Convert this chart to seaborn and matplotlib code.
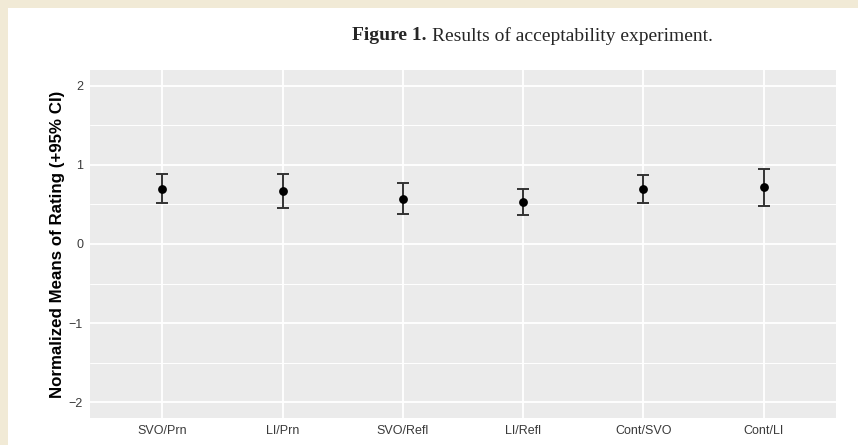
import numpy as np
import pandas as pd
import seaborn as sns
import matplotlib.pyplot as plt
from matplotlib.patches import Rectangle

# data
conditions = ["SVO/Prn", "LI/Prn", "SVO/Refl", "LI/Refl", "Cont/SVO", "Cont/LI"]
means = [0.70, 0.67, 0.565, 0.53, 0.70, 0.715]
ci_low = [0.515, 0.46, 0.375, 0.37, 0.52, 0.475]
ci_high = [0.88, 0.89, 0.765, 0.695, 0.87, 0.95]

df = pd.DataFrame({"Condition": conditions, "Mean": means, "Low": ci_low, "High": ci_high})

sns.set_style("darkgrid", {"axes.facecolor": "#EBEBEB", "grid.color": "white"})
plt.rcParams["font.family"] = ["Liberation Sans", "DejaVu Sans"]

fig = plt.figure(figsize=(8.58, 4.45), dpi=100)
fig.patch.set_facecolor("#f1ead6")
# white page area with beige margin on left and top
fig.patches.append(Rectangle((8 / 858, 0), 1, 1 - 8 / 445, transform=fig.transFigure,
                             facecolor="white", edgecolor="none", zorder=-10))

ax = fig.add_axes([90 / 858, 1 - 418 / 445, 746 / 858, 348 / 445])

sns.scatterplot(data=df, x="Condition", y="Mean", color="black", s=40, zorder=4, ax=ax,
                edgecolor="black", linewidth=0)
ax.errorbar(df["Condition"], df["Mean"],
            yerr=[df["Mean"] - df["Low"], df["High"] - df["Mean"]],
            fmt="none", ecolor="#333333", elinewidth=1.4, capsize=4.6, capthick=1.4, zorder=3)

ax.set_xlim(-0.6, len(conditions) - 0.4)
ax.set_ylim(-2.2, 2.2)
ax.set_yticks([-2, -1, 0, 1, 2])
ax.set_yticklabels(["\u22122", "\u22121", "0", "1", "2"])
ax.set_yticks([-1.5, -0.5, 0.5, 1.5], minor=True)
ax.grid(which="major", color="white", linewidth=1.3)
ax.grid(which="minor", axis="y", color="white", linewidth=0.7)
for s in ax.spines.values():
    s.set_visible(False)
ax.tick_params(which="major", length=3, width=0.8, color="#333333", labelcolor="#3a3a3a",
               labelsize=9, pad=2)
ax.tick_params(which="minor", length=0)
ax.set_xlabel("")
ax.set_ylabel("Normalized Means of Rating (+95% CI)", fontsize=12.2, fontweight="bold",
              color="black", labelpad=3)

# title, bold "Figure 1." followed by regular text
serif = ["Liberation Serif", "DejaVu Serif"]
t1 = fig.text(352 / 858, 1 - 36 / 445, "Figure 1.", family=serif, fontweight="bold",
              fontsize=14, va="center", ha="left")
fig.canvas.draw()
bb = t1.get_window_extent(fig.canvas.get_renderer())
fig.text((bb.x1 + 5) / 858, 1 - 36 / 445, "Results of acceptability experiment.",
         family=serif, fontsize=14, va="center", ha="left")

plt.savefig("out.png", dpi=100)
